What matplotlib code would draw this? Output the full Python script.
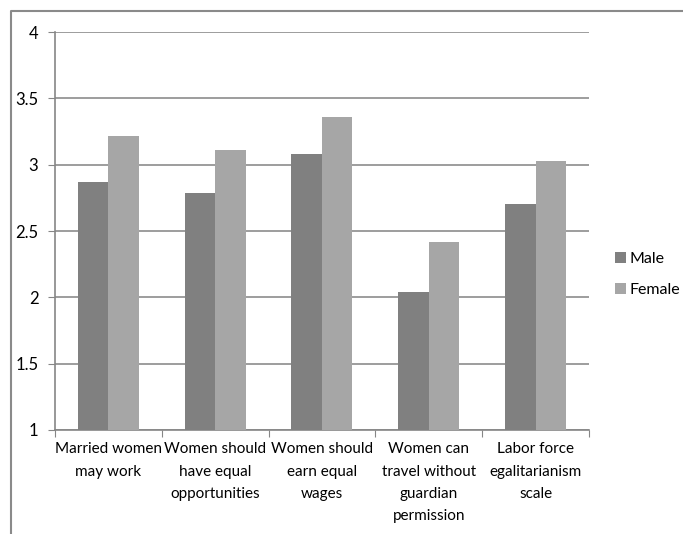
import numpy as np
import matplotlib
matplotlib.use("Agg")
import matplotlib.pyplot as plt
from matplotlib.lines import Line2D

categories = [
    "Married women\nmay work",
    "Women should\nhave equal\nopportunities",
    "Women should\nearn equal\nwages",
    "Women can\ntravel without\nguardian\npermission",
    "Labor force\negalitarianism\nscale",
]
male = [2.87, 2.79, 3.08, 2.04, 2.70]
female = [3.22, 3.11, 3.36, 2.42, 3.03]
series_names = ["Male", "Female"]

plt.rcParams["font.family"] = ["Lato", "DejaVu Sans"]

fig = plt.figure(figsize=(6.83, 5.34), dpi=100)
ax = fig.add_axes([0.0805, 0.1948, 0.7818, 0.7452])

x = np.arange(len(categories))
w = 0.2857
ax.bar(x - w / 2, np.array(male) - 1, w, bottom=1, color="#808080", label=series_names[0], zorder=3)
ax.bar(x + w / 2, np.array(female) - 1, w, bottom=1, color="#a6a6a6", label=series_names[1], zorder=3)

ax.set_xlim(-0.5, len(categories) - 0.5)
ax.set_ylim(1, 4)
ax.set_yticks(np.arange(1, 4.01, 0.5))
ax.set_yticklabels(["1", "1.5", "2", "2.5", "3", "3.5", "4"])
ax.yaxis.grid(True, color="#8c8c8c", linewidth=1.2, zorder=0)

# category boundaries get the tick marks, centres get the labels
ax.set_xticks(np.arange(-0.5, len(categories)), minor=False)
ax.set_xticklabels([])
ax.set_xticks(x, minor=True)
ax.set_xticklabels(categories, minor=True, linespacing=1.75)
ax.tick_params(axis="x", which="minor", length=0, pad=9, labelsize=11)
ax.tick_params(axis="x", which="major", length=5, color="#868686", direction="out")
ax.tick_params(axis="y", length=5, color="#868686", labelsize=12, pad=7)

for s in ["top", "right"]:
    ax.spines[s].set_visible(False)
for s in ["left", "bottom"]:
    ax.spines[s].set_color("#868686")
    ax.spines[s].set_linewidth(1.2)

leg = ax.legend(loc="center left", bbox_to_anchor=(1.048, 0.39), frameon=False,
                fontsize=11.5, handlelength=0.7, handleheight=0.7, handletextpad=0.25,
                labelspacing=1.05, borderpad=0, borderaxespad=0)

fig.add_artist(Line2D([11 / 683, 11 / 683, 1.0], [0.0, 1 - 11 / 534, 1 - 11 / 534],
                      transform=fig.transFigure, color="#8a8a8a", linewidth=1.5))

fig.savefig("out.png", dpi=100)
